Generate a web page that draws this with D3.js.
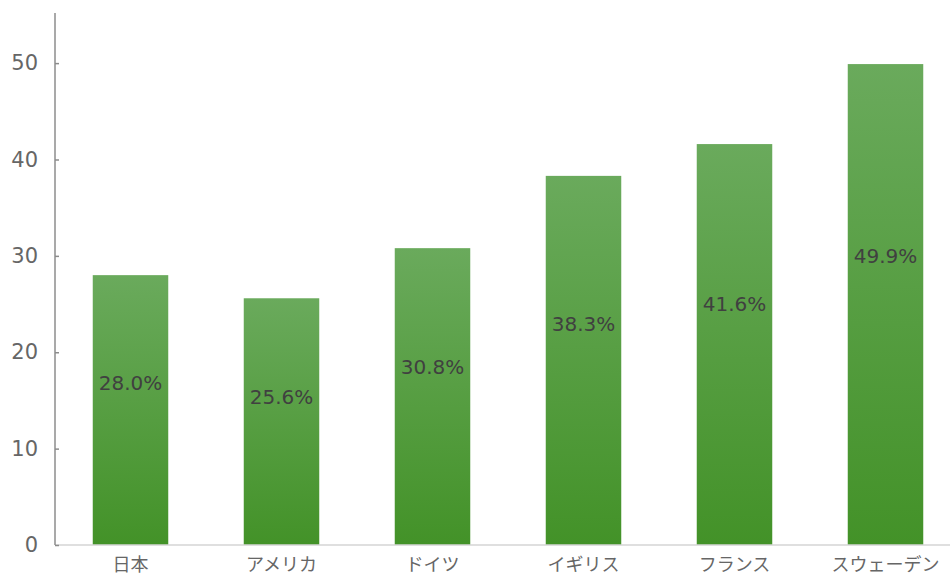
<!DOCTYPE html>
<html>
<head>
<meta charset="utf-8">
<script src="https://cdn.jsdelivr.net/npm/d3@7"></script>
<style>
  body { margin: 0; background: #fff; }
  svg { display: block; }
</style>
</head>
<body>
<div id="chart"></div>
<script>
var categories = ['日本', 'アメリカ', 'ドイツ', 'イギリス', 'フランス', 'スウェーデン'];
var values = [28.0, 25.6, 30.8, 38.3, 41.6, 49.9];
var yTicks = [0, 10, 20, 30, 40, 50];

var WIDTH = 950, HEIGHT = 579;
var FONT = '"Noto Sans CJK JP", "DejaVu Sans", sans-serif';

var svg = d3.select('#chart').append('svg')
    .attr('width', WIDTH).attr('height', HEIGHT);

var x = d3.scaleBand().domain(categories).range([55, 961]).paddingInner(0.5).paddingOuter(0.25);
var y = d3.scaleLinear().domain([0, 55.2]).range([545, 13]);

var grad = svg.append('defs').append('linearGradient')
    .attr('id', 'barGrad').attr('x1', 0).attr('y1', 0).attr('x2', 0).attr('y2', 1);
grad.append('stop').attr('offset', '0%').attr('stop-color', '#6aaa5c');
grad.append('stop').attr('offset', '100%').attr('stop-color', '#439228');

// bars
svg.append('g').selectAll('rect').data(values).enter().append('rect')
    .attr('x', function(d, i) { return x(categories[i]); })
    .attr('y', function(d) { return y(d); })
    .attr('width', x.bandwidth())
    .attr('height', function(d) { return y(0) - y(d); })
    .attr('fill', 'url(#barGrad)');

// value labels
svg.append('g').selectAll('text').data(values).enter().append('text')
    .attr('x', function(d, i) { return x(categories[i]) + x.bandwidth() / 2; })
    .attr('y', function(d) { return y(d * 0.6); })
    .attr('dy', '0.35em')
    .attr('text-anchor', 'middle')
    .style('font-family', '"DejaVu Sans", sans-serif')
    .style('font-size', '20px')
    .style('fill', '#404040')
    .text(function(d) { return d.toFixed(1) + '%'; });

// baseline
svg.append('line')
    .attr('x1', 55).attr('x2', WIDTH)
    .attr('y1', y(0)).attr('y2', y(0))
    .attr('stroke', '#d4d4d4').attr('stroke-width', 1.5);

// y axis
var yAxis = d3.axisRight(y).tickValues(yTicks).tickSize(4).tickFormat(d3.format('d'));
var gy = svg.append('g').attr('transform', 'translate(55,0)').call(yAxis);
gy.select('.domain').attr('stroke', '#8c8c8c').attr('stroke-width', 1.5)
    .attr('d', 'M0,' + y.range()[1] + 'V' + y.range()[0]);
gy.selectAll('.tick line').attr('stroke', '#8c8c8c').attr('stroke-width', 1.5);
gy.selectAll('.tick text')
    .attr('x', -17)
    .attr('text-anchor', 'end')
    .style('font-family', '"DejaVu Sans", sans-serif')
    .style('font-size', '21px')
    .style('fill', '#666666');

// x labels
var xAxis = d3.axisBottom(x).tickSize(0).tickPadding(13);
var gx = svg.append('g').attr('transform', 'translate(0,' + y(0) + ')').call(xAxis);
gx.select('.domain').remove();
gx.selectAll('.tick text')
    .style('font-family', FONT)
    .style('font-size', '18px')
    .style('fill', '#666666');
</script>
</body>
</html>
